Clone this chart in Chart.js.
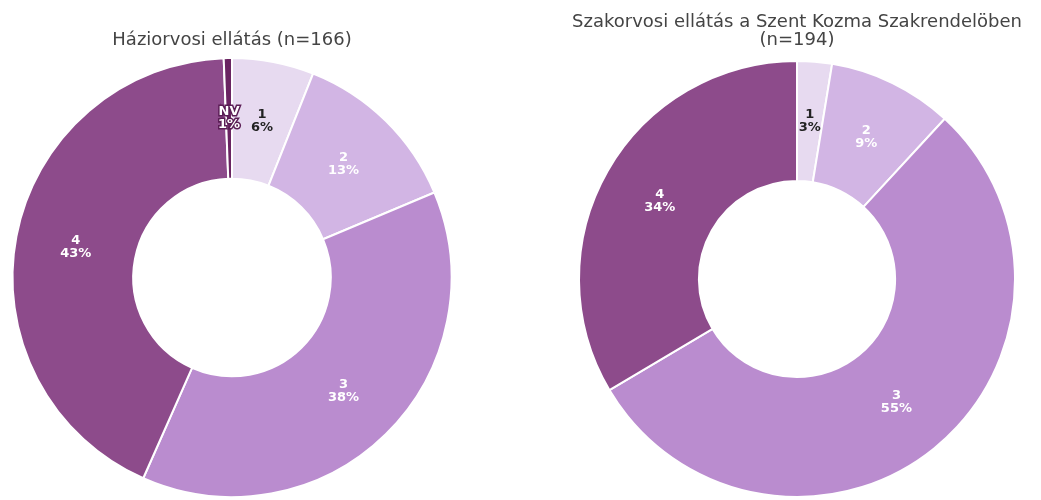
<!DOCTYPE html>
<html>
<head>
<meta charset="utf-8">
<script src="https://cdn.jsdelivr.net/npm/chart.js@4/dist/chart.umd.min.js"></script>
<style>
  html, body { margin: 0; padding: 0; background: #fff; }
  body { width: 1041px; height: 500px; position: relative; overflow: hidden; }
  canvas { position: absolute; top: 0; }
  #hazi { left: 0; }
  #szak { left: 541px; }
</style>
</head>
<body>
<canvas id="hazi" width="464" height="500"></canvas>
<canvas id="szak" width="500" height="500"></canvas>
<script>
(() => {
  'use strict';

  // Háziorvosi ellátás (n=166)
  const haziLabels = ['1', '2', '3', '4', 'NV'];
  const haziCounts = [10, 21, 63, 71, 1];
  const haziColors = ['#e7daf0', '#d2b5e4', '#ba8ccf', '#8d4b8b', '#6a2462'];
  const haziText = ['#222', '#fff', '#fff', '#fff', '#fff'];

  // Szakorvosi ellátás (n=194)
  const szakLabels = ['1', '2', '3', '4'];
  const szakCounts = [5, 18, 106, 65];
  const szakColors = ['#e7daf0', '#d2b5e4', '#ba8ccf', '#8d4b8b'];
  const szakText = ['#222', '#fff', '#fff', '#fff'];

  const titleFont = { family: "'DejaVu Sans', sans-serif", size: 18, weight: 'normal', lineHeight: 1.0 };
  const labelFamily = "'DejaVu Sans', sans-serif";

  const sliceLabels = {
    id: 'sliceLabels',
    afterDatasetsDraw(chart, args, opts) {
      const ctx = chart.ctx;
      const ds = chart.data.datasets[0];
      const total = ds.data.reduce((a, b) => a + b, 0);
      const meta = chart.getDatasetMeta(0);
      ctx.save();
      ctx.font = `bold 13px ${labelFamily}`;
      ctx.textAlign = 'center';
      ctx.textBaseline = 'middle';
      meta.data.forEach((arc, i) => {
        const { x, y } = arc.getCenterPoint();
        const lines = [chart.data.labels[i], Math.round(ds.data[i] / total * 100) + '%'];
        lines.forEach((t, k) => {
          const ty = y + (k - 0.5) * 13;
          if (chart.data.labels[i] === 'NV') {
            ctx.lineWidth = 3;
            ctx.strokeStyle = '#5a1d55';
            ctx.strokeText(t, x, ty);
          }
          ctx.fillStyle = opts.colors[i];
          ctx.fillText(t, x, ty);
        });
      });
      ctx.restore();
    }
  };

  function makeDonut(el, labels, counts, colors, textColors, title, pad) {
    return new Chart(el.getContext('2d'), {
      type: 'doughnut',
      data: {
        labels,
        datasets: [{ data: counts, backgroundColor: colors, borderColor: '#fff', borderWidth: 2 }]
      },
      options: {
        responsive: false,
        animation: false,
        devicePixelRatio: 1,
        events: [],
        cutout: '45%',
        layout: { padding: pad.layout },
        plugins: {
          legend: { display: false },
          tooltip: { enabled: false },
          title: { display: true, text: title, color: '#444', font: titleFont, padding: pad.title },
          sliceLabels: { colors: textColors }
        }
      },
      plugins: [sliceLabels]
    });
  }

  makeDonut(document.getElementById('hazi'), haziLabels, haziCounts, haziColors, haziText,
    'Háziorvosi ellátás (n=166)',
    { layout: { bottom: 2 }, title: { top: 31, bottom: 8 } });

  makeDonut(document.getElementById('szak'), szakLabels, szakCounts, szakColors, szakText,
    ['Szakorvosi ellátás a Szent Kozma Szakrendelöben', '(n=194)'],
    { layout: { left: 12, bottom: 2 }, title: { top: 13, bottom: 11 } });
})();
</script>
</body>
</html>
